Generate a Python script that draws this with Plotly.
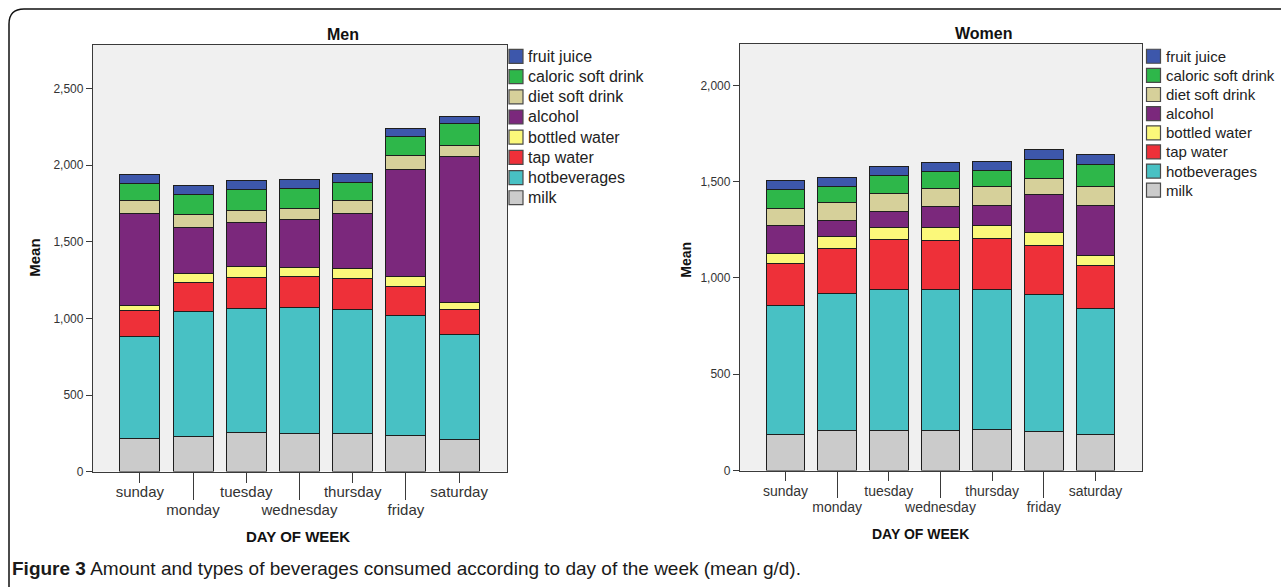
import plotly.graph_objects as go

W, H = 1281, 587
H_MAP = 580.5  # effective rendered paper height used for positioning

days = ["sunday", "monday", "tuesday", "wednesday", "thursday", "friday", "saturday"]
series_names = ["milk", "hotbeverages", "tap water", "bottled water", "alcohol",
                "diet soft drink", "caloric soft drink", "fruit juice"]
colors = ["#CBCBCB", "#48C1C4", "#EE3039", "#FBF87A", "#7B287C",
          "#D6D09A", "#2EB74A", "#3D57AB"]

# Men (mean g/d), Sunday..Saturday
men_milk = [213, 226, 254, 250, 246, 235, 209]
men_hot = [668, 820, 811, 822, 813, 783, 685]
men_tap = [171, 189, 205, 202, 204, 189, 167]
men_bottled = [31, 59, 67, 59, 63, 67, 41]
men_alcohol = [604, 302, 292, 313, 357, 696, 955]
men_diet = [81, 80, 78, 74, 87, 91, 72]
men_caloric = [115, 135, 135, 131, 120, 127, 141]
men_juice = [54, 55, 56, 54, 58, 54, 48]

# Women (mean g/d), Sunday..Saturday
women_milk = [189, 206, 210, 210, 215, 201, 185]
women_hot = [666, 711, 730, 728, 727, 715, 658]
women_tap = [222, 234, 259, 256, 263, 251, 220]
women_bottled = [52, 64, 65, 70, 66, 69, 52]
women_alcohol = [141, 81, 83, 107, 107, 195, 259]
women_diet = [92, 96, 93, 92, 97, 87, 103]
women_caloric = [99, 83, 92, 88, 83, 99, 110]
women_juice = [45, 45, 46, 48, 48, 48, 52]

men_series = [men_milk, men_hot, men_tap, men_bottled, men_alcohol, men_diet, men_caloric, men_juice]
women_series = [women_milk, women_hot, women_tap, women_bottled, women_alcohol, women_diet, women_caloric, women_juice]


def px(x):
    return x / W


def py(y):
    return 1 - y / H_MAP


FONT = "Liberation Sans, Arial, sans-serif"
pos = list(range(len(days)))
even_idx = [i for i in pos if i % 2 == 0]
odd_idx = [i for i in pos if i % 2 == 1]

fig = go.Figure()

for name, col, vals in zip(series_names, colors, men_series):
    fig.add_trace(go.Bar(x=pos, y=vals, name=name, marker=dict(color=col, line=dict(color="#1e1e1e", width=1)),
                         width=0.75, xaxis="x", yaxis="y", showlegend=False))
for name, col, vals in zip(series_names, colors, women_series):
    fig.add_trace(go.Bar(x=pos, y=vals, name=name, marker=dict(color=col, line=dict(color="#1e1e1e", width=1)),
                         width=0.745, xaxis="x2", yaxis="y2", showlegend=False))
# empty helper traces so the long-tick overlay axes are drawn
fig.add_trace(go.Scatter(x=[], y=[], xaxis="x3", yaxis="y", showlegend=False, hoverinfo="skip"))
fig.add_trace(go.Scatter(x=[], y=[], xaxis="x4", yaxis="y2", showlegend=False, hoverinfo="skip"))

ax_common = dict(showgrid=False, zeroline=False, linecolor="#3a3a3a", linewidth=1.3,
                 ticks="outside", tickcolor="#3a3a3a", tickwidth=1.3)

men_dom_x = [px(93), px(507)]
wom_dom_x = [px(740), px(1142)]
dom_y = [py(472), py(45)]
dom_y2 = [py(471), py(44)]
xr = [-0.88, 6.9]

fig.update_layout(
    width=W, height=H, autosize=False, margin=dict(l=0, r=0, t=0, b=0, pad=0),
    paper_bgcolor="white", plot_bgcolor="#F0F0F0",
    barmode="stack", bargap=0.25, showlegend=False,
    font=dict(family=FONT, color="#333333"),
    xaxis=dict(domain=men_dom_x, range=xr, anchor="y", tickvals=even_idx,
               ticktext=[days[i] for i in even_idx], ticklen=10, ticklabelstandoff=-4, mirror=True, showline=True,
               tickfont=dict(size=15, color="#333333"), **ax_common),
    xaxis3=dict(domain=men_dom_x, range=xr, anchor="y", overlaying="x", tickvals=odd_idx,
                ticktext=[days[i] for i in odd_idx], ticklen=27, ticklabelstandoff=-3, showline=False,
                tickfont=dict(size=15, color="#333333"), **ax_common),
    yaxis=dict(domain=dom_y, range=[0, 2785], anchor="x", dtick=500, tickformat=",", ticklen=6,
               showline=True, mirror=True, tickfont=dict(size=12, color="#333333"), **ax_common),
    xaxis2=dict(domain=wom_dom_x, range=xr, anchor="y2", tickvals=even_idx,
                ticktext=[days[i] for i in even_idx], ticklen=9, ticklabelstandoff=-2, mirror=True, showline=True,
                tickfont=dict(size=14, color="#333333"), **ax_common),
    xaxis4=dict(domain=wom_dom_x, range=xr, anchor="y2", overlaying="x2", tickvals=odd_idx,
                ticktext=[days[i] for i in odd_idx], ticklen=26, ticklabelstandoff=-2, showline=False,
                tickfont=dict(size=14, color="#333333"), **ax_common),
    yaxis2=dict(domain=dom_y2, range=[0, 2215], anchor="x2", dtick=500, tickformat=",", ticklen=6,
                showline=True, mirror=True, tickfont=dict(size=12, color="#333333"), **ax_common),
)

annos = [
    dict(text="<b>Men</b>", x=px(343), y=py(35), font=dict(size=16, color="#111111")),
    dict(text="<b>Women</b>", x=px(983), y=py(34), font=dict(size=16, color="#111111")),
    dict(text="<b>Mean</b>", x=px(35), y=py(258), textangle=-90, font=dict(size=15, color="#111111")),
    dict(text="<b>Mean</b>", x=px(686), y=py(260), textangle=-90, font=dict(size=14, color="#111111")),
    dict(text="<b>DAY OF WEEK</b>", x=px(298), y=py(537), font=dict(size=15, color="#111111")),
    dict(text="<b>DAY OF WEEK</b>", x=px(920), y=py(534), font=dict(size=14, color="#111111")),
]
for a in annos:
    fig.add_annotation(xref="paper", yref="paper", showarrow=False, xanchor="center", yanchor="middle",
                       font_family=FONT, **a)

# manual legends (fruit juice on top, milk at the bottom)
legend_specs = [
    dict(x0=509, y0=49.5, step=20.2, size=14, font=16),
    dict(x0=1146.5, y0=49.3, step=19.15, size=14, font=15),
]
for spec in legend_specs:
    for k, (name, col) in enumerate(zip(series_names[::-1], colors[::-1])):
        top = spec["y0"] + k * spec["step"]
        fig.add_shape(type="rect", xref="paper", yref="paper",
                      x0=px(spec["x0"]), x1=px(spec["x0"] + spec["size"]),
                      y0=py(top + spec["size"]), y1=py(top),
                      fillcolor=col, line=dict(color="#4a4a4a", width=1.2))
        fig.add_annotation(xref="paper", yref="paper", x=px(spec["x0"] + spec["size"] + 3),
                           y=py(top + spec["size"] / 2), xanchor="left", yanchor="middle", showarrow=False,
                           text=name, font=dict(family=FONT, size=spec["font"], color="#222222"))

fig.add_annotation(xref="paper", yref="paper", x=px(10), y=py(569), xanchor="left", yanchor="middle",
                   showarrow=False,
                   text="<b>Figure 3</b> Amount and types of beverages consumed according to day of the week (mean g/d).",
                   font=dict(family="Liberation Sans Narrow, Arial Narrow, Liberation Sans, sans-serif", size=19,
                             color="#1a1a1a"))

# rounded frame around the figure (top-left corner rounded)
pts = f"M {px(9)},{py(600)} L {px(9)},{py(24)} Q {px(9)},{py(9)} {px(24)},{py(9)} L {px(1290)},{py(9)}"
fig.add_shape(type="path", xref="paper", yref="paper", path=pts, line=dict(color="#111111", width=1.5))

fig.write_html("out.html", config={"displayModeBar": False, "responsive": False},
               post_script="document.body.style.margin='0';document.documentElement.style.overflow='hidden';document.body.style.overflow='hidden';")
